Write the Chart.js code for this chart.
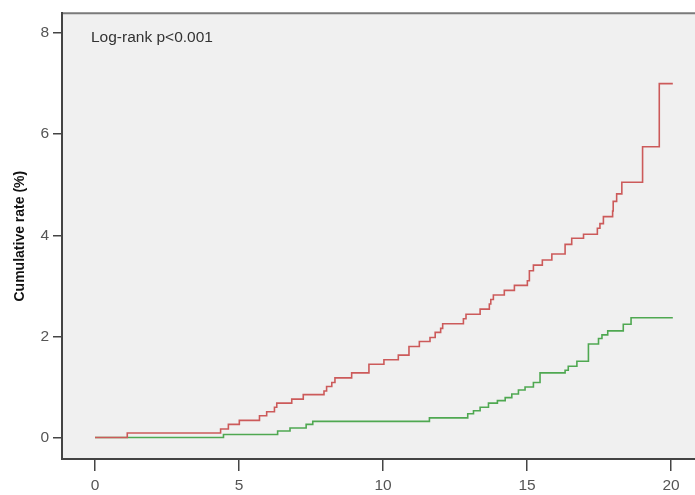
<!DOCTYPE html>
<html>
<head>
<meta charset="utf-8">
<script src="https://cdn.jsdelivr.net/npm/chart.js@4"></script>
<style>
  html, body { margin: 0; padding: 0; background: #fff; }
  #wrap { width: 695px; height: 495px; }
</style>
</head>
<body>
<div id="wrap"><canvas id="km"></canvas></div>
<script>
// Event times (years) and cumulative rate (%) after each step
const redTimes = [0, 1.12, 4.36, 4.63, 5.01, 5.71, 5.96, 6.23, 6.31, 6.83, 7.23, 7.95, 8.04, 8.22, 8.33, 8.91,
  9.51, 10.03, 10.53, 10.90, 11.26, 11.63, 11.81, 12.0, 12.07, 12.79, 12.88, 13.37, 13.69, 13.74, 13.83,
  14.21, 14.56, 15.01, 15.08, 15.22, 15.53, 15.86, 16.32, 16.55, 16.96, 17.44, 17.53, 17.65, 17.97,
  17.99, 18.11, 18.29, 19.01, 19.59, 20.06];
const redRates = [0, 0.09, 0.17, 0.26, 0.34, 0.43, 0.51, 0.60, 0.68, 0.76, 0.85, 0.92, 1.01, 1.09, 1.18, 1.28,
  1.45, 1.54, 1.63, 1.80, 1.90, 1.98, 2.08, 2.16, 2.25, 2.35, 2.44, 2.54, 2.64, 2.73, 2.82,
  2.91, 3.01, 3.10, 3.30, 3.41, 3.51, 3.63, 3.82, 3.94, 4.02, 4.14, 4.23, 4.37, 4.48,
  4.67, 4.82, 5.05, 5.75, 7.0, 7.0];

const greenTimes = [0, 4.46, 6.34, 6.77, 7.33, 7.56, 11.61, 12.94, 13.14, 13.37, 13.66, 13.97, 14.24, 14.47,
  14.70, 14.93, 15.22, 15.45, 16.32, 16.43, 16.73, 17.13, 17.48, 17.60, 17.80, 18.34, 18.61, 20.06];
const greenRates = [0, 0.06, 0.13, 0.19, 0.26, 0.32, 0.39, 0.47, 0.53, 0.60, 0.68, 0.73, 0.79, 0.86,
  0.94, 1.00, 1.09, 1.28, 1.33, 1.41, 1.51, 1.85, 1.96, 2.03, 2.11, 2.24, 2.37, 2.37];

const xTicks = [0, 5, 10, 15, 20];
const yTicks = [0, 2, 4, 6, 8];

const toPoints = (ts, vs) => ts.map((t, i) => ({ x: t, y: vs[i] }));

// gray plot background + top frame + annotation
const frame = {
  id: 'frame',
  beforeDraw(chart) {
    const { ctx, chartArea: a } = chart;
    ctx.save();
    ctx.fillStyle = '#f0f0f0';
    ctx.fillRect(a.left, a.top, a.right - a.left, a.bottom - a.top);
    ctx.strokeStyle = '#7a7a7a';
    ctx.lineWidth = 2;
    ctx.beginPath();
    ctx.moveTo(a.left, a.top);
    ctx.lineTo(a.right, a.top);
    ctx.stroke();
    ctx.restore();
  },
  afterDraw(chart) {
    const { ctx, chartArea: a } = chart;
    ctx.save();
    ctx.fillStyle = '#333';
    ctx.font = '15.5px "Liberation Sans", Arial, sans-serif';
    ctx.textBaseline = 'middle';
    ctx.fillText('Log-rank p<0.001', a.left + 29, a.top + 24);
    ctx.restore();
  }
};

new Chart(document.getElementById('km'), {
  type: 'line',
  data: {
    datasets: [{
      label: 'Group 1',
      data: toPoints(redTimes, redRates),
      borderColor: '#cc5a5a',
      borderWidth: 1.6,
      stepped: true,
      pointRadius: 0,
      fill: false
    }, {
      label: 'Group 2',
      data: toPoints(greenTimes, greenRates),
      borderColor: '#4fa851',
      borderWidth: 1.6,
      stepped: true,
      pointRadius: 0,
      fill: false
    }]
  },
  options: {
    responsive: true,
    maintainAspectRatio: false,
    animation: false,
    layout: { padding: { top: 8, right: 0, left: 0, bottom: 0 } },
    plugins: {
      legend: { display: false },
      tooltip: { enabled: false }
    },
    scales: {
      x: {
        type: 'linear',
        min: -1.146,
        max: 20.83,
        afterBuildTicks: s => { s.ticks = xTicks.map(v => ({ value: v })); },
        afterFit: s => { s.height = 36; },
        grid: { display: true, drawOnChartArea: false, drawTicks: true, tickLength: 12, color: '#444', lineWidth: 1.5 },
        border: { display: true, color: '#444', width: 2 },
        ticks: {
          color: '#555',
          padding: 5,
          maxRotation: 0,
          font: { family: '"Liberation Sans", Arial, sans-serif', size: 15.5 }
        }
      },
      y: {
        type: 'linear',
        min: -0.424,
        max: 8.39,
        afterBuildTicks: s => { s.ticks = yTicks.map(v => ({ value: v })); },
        afterFit: s => { s.width = 62; },
        grid: { display: true, drawOnChartArea: false, drawTicks: true, tickLength: 9, color: '#444', lineWidth: 1.5 },
        border: { display: true, color: '#444', width: 2 },
        ticks: {
          color: '#555',
          padding: 4,
          font: { family: '"Liberation Sans", Arial, sans-serif', size: 15.5 }
        },
        title: {
          display: true,
          text: 'Cumulative rate (%)',
          color: '#111',
          padding: { top: 12, bottom: 0 },
          font: { family: '"Liberation Sans", Arial, sans-serif', size: 14, weight: 'bold' }
        }
      }
    }
  },
  plugins: [frame]
});
</script>
</body>
</html>
